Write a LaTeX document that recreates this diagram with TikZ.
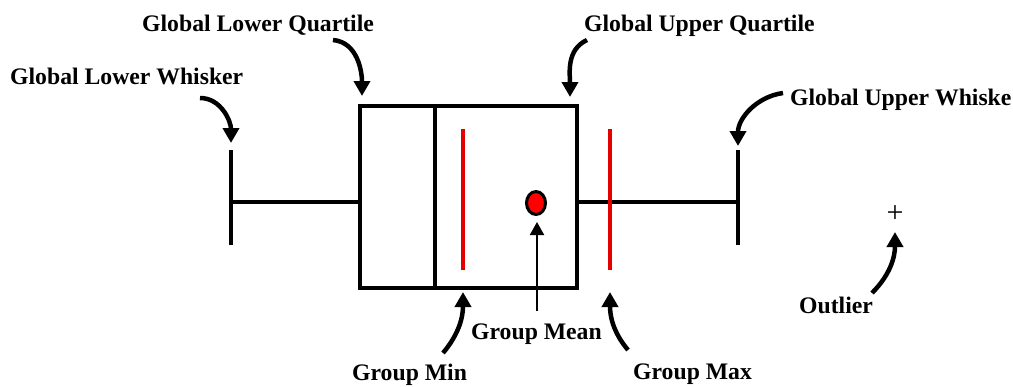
\documentclass[tikz,border=0pt]{standalone}
\usepackage{fontspec}
\setmainfont{Liberation Serif}
\usetikzlibrary{arrows.meta,shapes.geometric}
\begin{document}
\begin{tikzpicture}[x=1pt,y=-1pt,
  lbl/.style={inner sep=0pt,anchor=base west,font=\fontsize{23.7}{28}\selectfont\bfseries},
  bar/.style={line width=4.2pt,black},
  redbar/.style={line width=4pt,red!90!black},
  bigarrow/.style={line width=4.5pt,-{Triangle[width=16pt,length=15pt]}},
  thinarrow/.style={line width=2pt,-{Triangle[width=14pt,length=13pt]}}]
\useasboundingbox (0,0) rectangle (1013,386);
\fill[white] (0,0) rectangle (1013,386);
% box plot
\draw[bar] (360,106) rectangle (577,288);
\draw[bar] (435,106) -- (435,288);
\draw[bar] (231,150) -- (231,245);
\draw[bar] (231,202) -- (360,202);
\draw[bar] (577,202) -- (738,202);
\draw[bar] (738,150) -- (738,245);
\draw[redbar] (463,129) -- (463,270);
\draw[redbar] (610,129) -- (610,270);
\node[draw=black,line width=3pt,fill=red,ellipse,minimum width=19pt,minimum height=23pt,inner sep=0pt] (mean) at (536,203) {};
\node[inner sep=0pt,font=\fontsize{30}{32}\selectfont] (out) at (895,214) {+};
% labels
\node[lbl] (lw) at (10,84) {Global Lower Whisker};
\node[lbl] (lq) at (142,31) {Global Lower Quartile};
\node[lbl] (uq) at (584,31) {Global Upper Quartile};
\node[lbl] (uw) at (790,105) {Global Upper Whiske};
\node[lbl] (gmin) at (352,380) {Group Min};
\node[lbl] (gmean) at (471,339) {Group Mean};
\node[lbl] (gmax) at (633,379) {Group Max};
\node[lbl] (ol) at (799,313) {Outlier};
% arrow end coordinates
\coordinate (lwS) at (200,98);  \coordinate (lwE) at (231,143);
\coordinate (lqS) at (333,40);  \coordinate (lqE) at (362,96);
\coordinate (uqS) at (587,40);  \coordinate (uqE) at (570,97);
\coordinate (uwS) at (783,93);  \coordinate (uwE) at (738,146);
\coordinate (minS) at (443,353); \coordinate (minE) at (463,292);
\coordinate (maxS) at (628,350); \coordinate (maxE) at (610,292);
\coordinate (olS) at (872,293); \coordinate (olE) at (895,232);
\coordinate (meanS) at (537,311); \coordinate (meanE) at (537,222);
% arrows
\draw[bigarrow] (lwS) to[out=0,in=90] (lwE);
\draw[bigarrow] (lqS) to[out=-5,in=90] (lqE);
\draw[bigarrow] (uqS) to[out=205,in=90] (uqE);
\draw[bigarrow] (uwS) to[out=188,in=90] (uwE);
\draw[bigarrow] (minS) to[out=50,in=-90] (minE);
\draw[bigarrow] (maxS) to[out=130,in=-90] (maxE);
\draw[bigarrow] (olS) to[out=45,in=-90] (olE);
\draw[thinarrow] (meanS) -- (meanE);
\end{tikzpicture}
\end{document}
